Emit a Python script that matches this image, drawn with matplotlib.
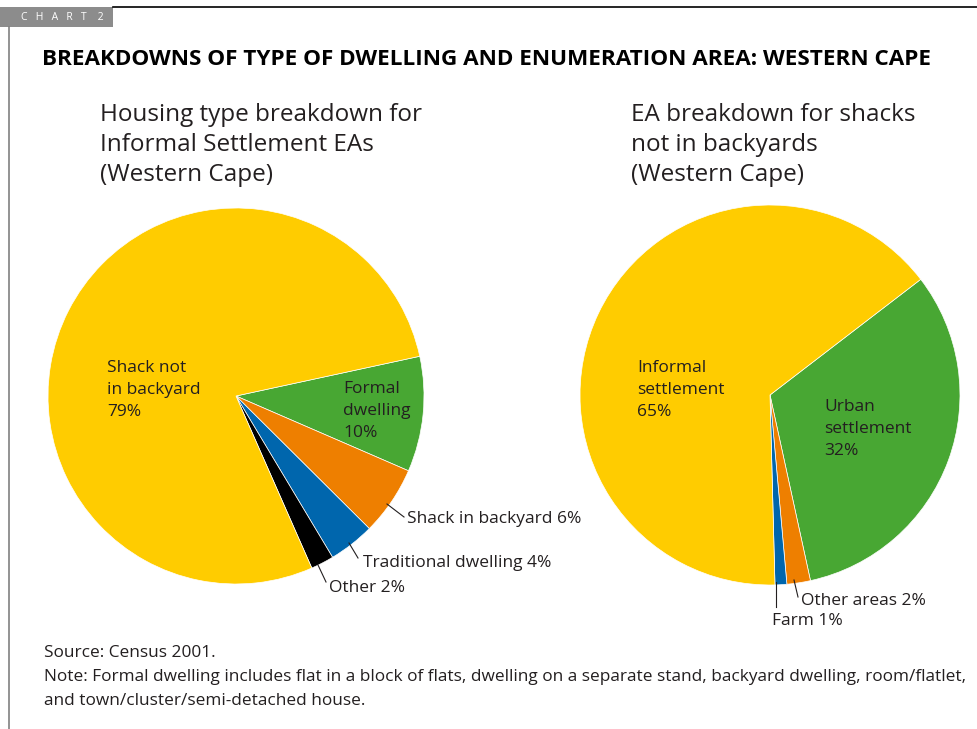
import matplotlib
matplotlib.use('Agg')
import matplotlib.pyplot as plt

plt.rcParams['font.family'] = ['Open Sans', 'DejaVu Sans']

W, H = 978, 729

# housing type breakdown, informal settlement EAs
housing_labels = ['Formal dwelling', 'Shack in backyard', 'Traditional dwelling', 'Other', 'Shack not in backyard']
housing_values = [10, 6, 4, 2, 79]

# EA breakdown, shacks not in backyards
ea_labels = ['Urban settlement', 'Other areas', 'Farm', 'Informal settlement']
ea_values = [32, 2, 1, 65]

YELLOW = '#FFCC00'
GREEN = '#48A733'
ORANGE = '#EE7F00'
BLUE = '#0066AD'
BLACK = '#000000'
TXT = '#231F20'

housing_colors = [GREEN, ORANGE, BLUE, BLACK, YELLOW]
ea_colors = [GREEN, ORANGE, BLUE, YELLOW]

fig = plt.figure(figsize=(W/100, H/100), dpi=100)
ax = fig.add_axes([0, 0, 1, 1])


def Y(y):
    # pixel row from top -> data y
    return H - y


def lines(x, y0, step, rows, size, **kw):
    for i, r in enumerate(rows):
        ax.text(x, Y(y0 + i*step), r, fontsize=size, color=TXT, va='center', ha='left', **kw)


ax.pie(housing_values, colors=housing_colors, startangle=12.2, counterclock=False,
       center=(236, Y(396)), radius=188,
       wedgeprops=dict(edgecolor='white', linewidth=0.5))
ax.pie(ea_values, colors=ea_colors, startangle=37.5, counterclock=False,
       center=(770, Y(395)), radius=190,
       wedgeprops=dict(edgecolor='white', linewidth=0.5))

ax.set_xlim(0, W)
ax.set_ylim(0, H)
ax.set_aspect('auto')
ax.axis('off')

# frame: top rule, left rule, chart tag
ax.plot([113, W], [Y(7), Y(7)], color='black', lw=1.2)
ax.plot([8.5, 8.5], [Y(27), 0], color='#808080', lw=1.2)
ax.add_patch(plt.Rectangle((0, Y(27)), 113, 20, color='#8C8C8C', lw=0))
ax.text(21, Y(17), 'C   H   A   R   T    2', fontsize=7.5, color='white', va='center', ha='left')

ax.text(42, Y(59), 'BREAKDOWNS OF TYPE OF DWELLING AND ENUMERATION AREA: WESTERN CAPE',
        fontsize=16.2, fontweight='bold', color='black', va='center', ha='left')

lines(100, 115, 30, ['Housing type breakdown for', 'Informal Settlement EAs', '(Western Cape)'], 17.5)
lines(631, 115, 30, ['EA breakdown for shacks', 'not in backyards', '(Western Cape)'], 17.5)

# wedge labels
lines(107, 368, 22, ['Shack not', 'in backyard', f'{housing_values[4]}%'], 12.5)
lines(343, 389, 22, ['Formal', 'dwelling', f'{housing_values[0]}%'], 12.5)
lines(637, 368, 22, ['Informal', 'settlement', f'{ea_values[3]}%'], 12.5)
lines(824, 407, 22, ['Urban', 'settlement', f'{ea_values[0]}%'], 12.5)

# outside labels with leader lines
outside = [
    ((387, 504), (404, 517), (407, 519), f'{housing_labels[1]} {housing_values[1]}%'),
    ((349, 543), (358, 558), (363, 563), f'{housing_labels[2]} {housing_values[2]}%'),
    ((318, 565), (326, 582), (329, 588), f'{housing_labels[3]} {housing_values[3]}%'),
    ((794, 580), (798, 597), (801, 601), f'{ea_labels[1]} {ea_values[1]}%'),
    ((776, 582), (776, 607), (772, 621), f'{ea_labels[2]} {ea_values[2]}%'),
]
for p0, p1, tp, s in outside:
    ax.plot([p0[0], p1[0]], [Y(p0[1]), Y(p1[1])], color=TXT, lw=0.8)
    ax.text(tp[0], Y(tp[1]), s, fontsize=12.5, color=TXT, va='center', ha='left')

lines(44, 653, 24, ['Source: Census 2001.',
                    'Note: Formal dwelling includes flat in a block of flats, dwelling on a separate stand, backyard dwelling, room/flatlet,',
                    'and town/cluster/semi-detached house.'], 12.4)

fig.savefig('out.png', dpi=100)
